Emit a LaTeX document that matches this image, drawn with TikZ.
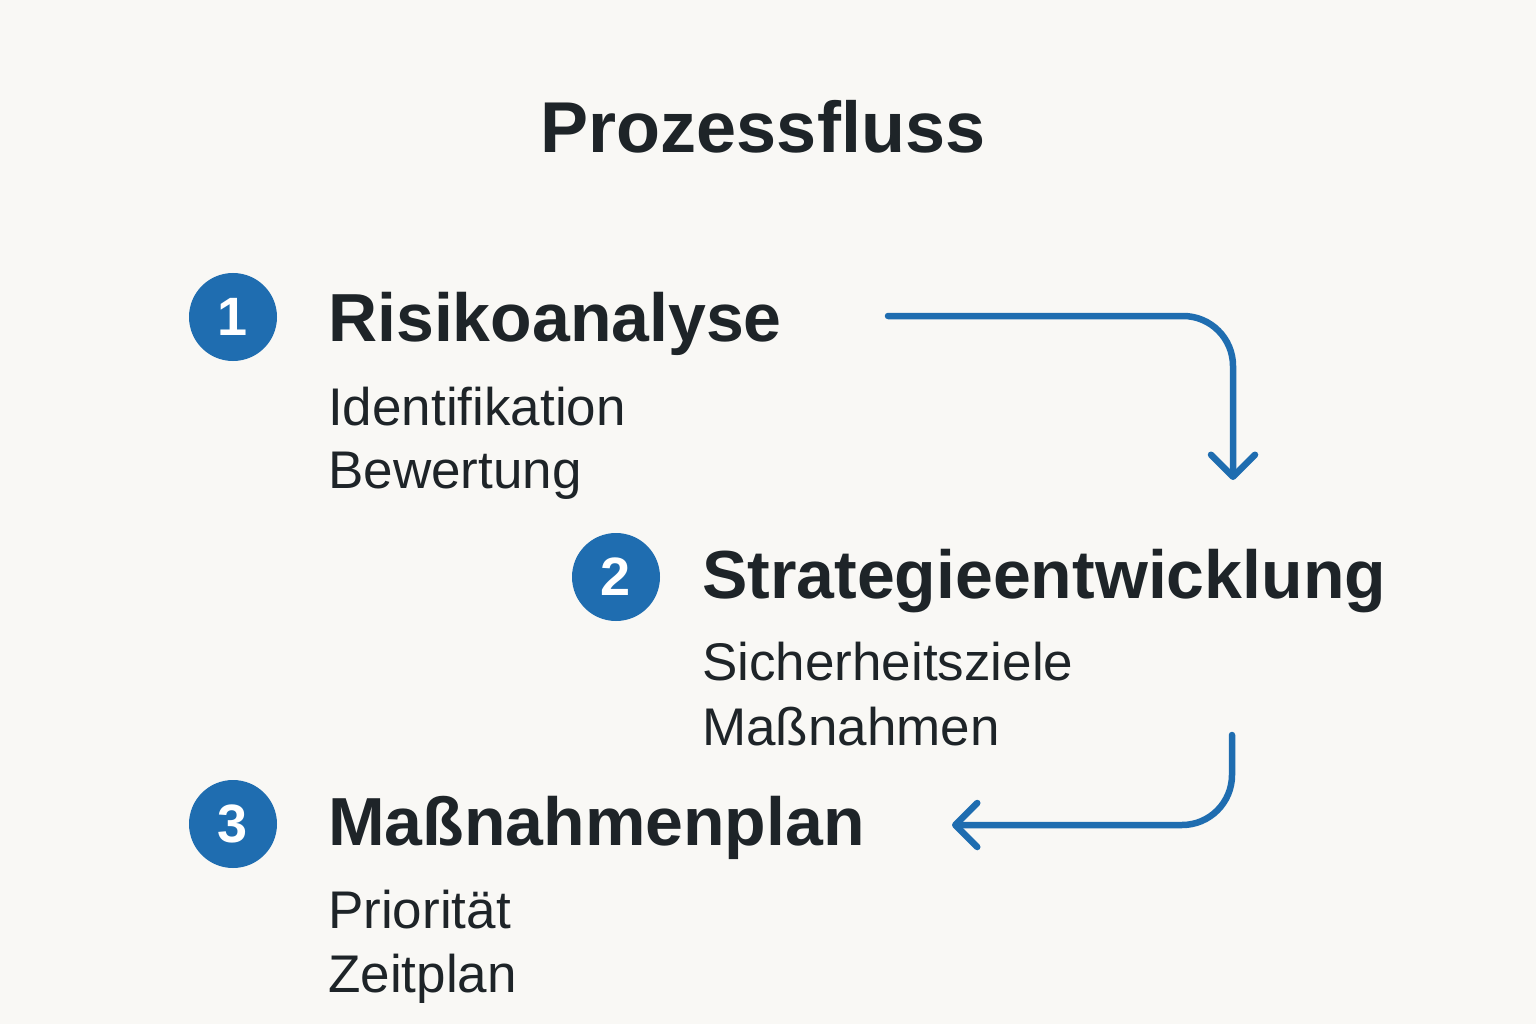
\documentclass[tikz,border=0pt]{standalone}
\usepackage{fontspec}
\setmainfont{Liberation Sans}[Ligatures=CommonOff]
\usetikzlibrary{arrows.meta}
\definecolor{flowblue}{HTML}{1F6DB0}
\definecolor{ink}{HTML}{1E2428}
\definecolor{paper}{HTML}{F9F8F5}
\begin{document}
\begin{tikzpicture}[x={(1pt,0pt)},y={(0pt,-1pt)},
    num/.style={circle,fill=flowblue,text=white,minimum size=88pt,inner sep=0pt,
      font=\fontsize{54}{54}\selectfont\bfseries},
    head/.style={anchor=base west,text=ink,inner sep=0pt,
      font=\fontsize{68}{76}\selectfont\bfseries},
    sub/.style={anchor=base west,text=ink,inner sep=0pt,
      font=\fontsize{53}{60}\selectfont},
    flow/.style={draw=flowblue,line width=6.5pt,line cap=round,rounded corners=50pt,
      -{Straight Barb[length=22pt,width=44pt,round]}}]
  \fill[paper] (0,0) rectangle (1536,1024);
  \useasboundingbox (0,0) rectangle (1536,1024);
  \node[anchor=base,text=ink,inner sep=0pt,font=\fontsize{72}{80}\selectfont\bfseries]
    (title) at (763,153) {Prozessfluss};
  % steps
  \node[num] (n1) at (233,317) {1};
  \node[head] (h1) at (328,341) {Risikoanalyse};
  \node[sub] (s11) at (328,425) {Identifikation};
  \node[sub] (s12) at (328,488) {Bewertung};
  \node[num] (n2) at (616,577) {2};
  \node[head] (h2) at (702,598) {Strategieentwicklung};
  \node[sub] (s21) at (702,680) {Sicherheitsziele};
  \node[sub] (s22) at (702,745) {Maßnahmen};
  \node[num] (n3) at (233,824) {3};
  \node[head] (h3) at (328,845) {Maßnahmenplan};
  \node[sub] (s31) at (328,928) {Priorität};
  \node[sub] (s32) at (328,992) {Zeitplan};
  % arrows
  \coordinate (a1) at (888,316);
  \coordinate (b1) at (1233,480);
  \coordinate (a2) at (1232,735);
  \coordinate (b2) at (952,825);
  \draw[flow] (a1) -| (b1);
  \draw[flow] (a2) |- (b2);
\end{tikzpicture}
\end{document}
